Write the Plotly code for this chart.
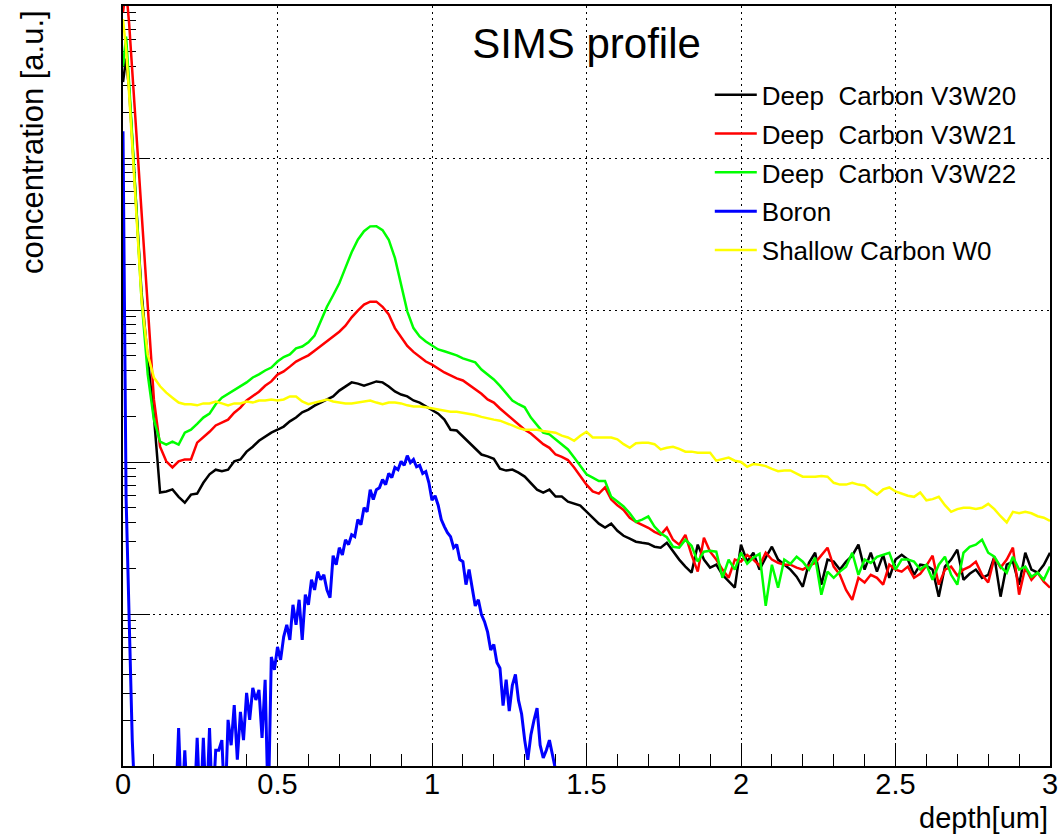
import numpy as np
import plotly.graph_objects as go

# ---- depth grids [um] ----
carbon_depth = [0.0, 0.01] + list(np.round(np.arange(0.02, 3.0001, 0.02), 2))
boron_depth = list(np.round(np.arange(0.0, 1.4401, 0.01), 2))

# ---- SIMS concentrations [a.u.] ----
deep_c_v3w20 = [
    31600, 45000,
    28000, 6000, 1300, 480, 200, 63, 64, 66, 59, 54,
    61, 62, 73, 83, 89, 87, 89, 101, 104, 117,
    126, 138, 147, 156, 163, 171, 185, 196, 212, 221,
    235, 246, 258, 270, 295, 314, 334, 328, 318, 328,
    339, 334, 314, 291, 278, 270, 254, 246, 232, 218,
    208, 190, 163, 161, 147, 134, 122, 112, 109, 105,
    90.5, 87.8, 89.1, 85.1, 80.2, 73.2, 65.8, 62.9, 65.8, 59.2,
    59.2, 54.8, 53.2, 51.6, 47.1, 43.0, 39.3, 37.0, 39.3, 35.3,
    32.7, 31.3, 29.9, 29.4, 29.0, 27.7, 27.3, 29.4, 25.7, 22.8,
    20.5, 18.7, 28.6, 22.8, 20.2, 21.1, 18.1, 16.3, 14.9, 28.6,
    22.1, 25.3, 19.6, 23.5, 27.7, 22.8, 21.1, 19.6, 17.6, 15.1,
    21.7, 25.3, 15.6, 22.8, 22.1, 19.6, 22.1, 24.2, 28.6, 19.6,
    25.3, 19.0, 24.5, 17.3, 22.8, 24.5, 22.8, 18.1, 21.1, 20.8,
    19.6, 13.0, 20.5, 22.8, 26.5, 16.8, 18.4, 19.6, 17.3, 18.1,
    23.8, 13.0, 21.1, 22.1, 15.6, 25.3, 19.6, 18.7, 21.1, 25.3,
]

deep_c_v3w21 = [
    91000, 130000,
    76000, 18000, 4270, 1090, 258, 126, 101, 92, 101, 104,
    104, 134, 145, 158, 174, 182, 190, 211, 228, 254,
    272, 290, 317, 339, 376, 394, 424, 458, 480, 503,
    540, 582, 620, 668, 720, 788, 895, 990, 1085, 1135,
    1135, 1050, 935, 760, 660, 580, 530, 495, 458, 437,
    412, 388, 371, 355, 344, 322, 300, 281, 258, 246,
    225, 208, 190, 176, 163, 154, 143, 131, 124, 112,
    108, 103, 92, 81, 71, 64, 62, 68, 56.6, 52,
    48.4, 43, 40.4, 38.6, 36.9, 34.7, 33.2, 36.9, 30.8, 28.6,
    33.2, 24.5, 19.0, 31.8, 25.7, 22.8, 19.6, 17.3, 22.8, 22.1,
    24.5, 22.8, 20.8, 25.3, 22.8, 21.7, 21.1, 21.1, 20.2, 19.6,
    20.8, 21.7, 24.5, 27.3, 20.5, 18.1, 14.4, 12.4, 17.3, 16.1,
    18.1, 17.3, 15.6, 21.1, 19.6, 19.0, 20.5, 17.3, 18.4, 20.8,
    24.2, 15.6, 19.6, 20.5, 17.9, 19.6, 20.5, 22.1, 18.1, 16.1,
    23.5, 20.2, 22.8, 27.3, 13.4, 20.2, 16.8, 18.7, 16.3, 14.9,
]

deep_c_v3w22 = [
    40000, 63000,
    30600, 5770, 1175, 377, 190, 136, 130, 136, 130, 156,
    163, 178, 196, 208, 240, 265, 281, 296, 318, 334,
    360, 377, 400, 418, 458, 490, 510, 560, 575, 612,
    680, 840, 1050, 1250, 1500, 1900, 2400, 2900, 3300, 3550,
    3560, 3350, 2900, 2200, 1450, 980, 760, 670, 620, 580,
    550, 535, 520, 503, 480, 466, 452, 406, 376, 349,
    317, 286, 254, 240, 229, 196, 174, 156, 152, 141,
    129, 121, 107, 95, 83, 79, 75, 75, 59, 55,
    51, 46, 40.4, 41.8, 43.8, 37.6, 34, 32, 27.7, 27.3,
    30.8, 28.1, 22.1, 25.7, 26.1, 25.7, 17.3, 22.8, 19.6, 25.3,
    21.4, 23.5, 24.9, 11.3, 21.1, 14.9, 22.8, 21.4, 23.8, 22.1,
    19.6, 23.5, 13.4, 19.0, 17.3, 19.0, 20.5, 25.3, 18.1, 22.8,
    21.7, 23.8, 24.5, 25.3, 19.6, 22.8, 22.8, 22.1, 19.6, 21.1,
    16.8, 21.1, 23.8, 18.1, 15.6, 25.3, 27.7, 28.6, 30.8, 25.3,
    23.8, 20.5, 18.7, 23.8, 19.6, 20.5, 17.6, 18.7, 16.8, 20.5,
]

boron = [
    15000, 58, 9.2, 1.48, 0.5, 0.5, 0.5, 0.5, 0.5, 0.5,
    0.5, 0.5, 0.5, 0.5, 0.5, 0.5, 0.5, 0.5, 1.78, 0.5,
    1.27, 0.5, 0.5, 0.5, 1.53, 0.5, 1.53, 0.5, 1.78, 0.5,
    1.27, 1.27, 1.48, 0.5, 2.01, 1.37, 2.52, 1.1, 2.27, 1.48,
    3.03, 2.01, 3.27, 2.72, 3.17, 1.53, 3.69, 0.5, 5.22, 4.29,
    6.08, 4.99, 7.08, 8.49, 6.76, 11.5, 8.49, 12.4, 6.76, 13.4,
    11.5, 16.8, 14.4, 19.0, 16.8, 18.1, 14.4, 12.8, 24.2, 21.1,
    27.3, 24.5, 30.8, 28.6, 33.2, 32.3, 41.8, 38.6, 50, 47.1,
    65.8, 56.6, 65.8, 67.8, 76.6, 71, 84, 79, 92, 89,
    101, 95, 110, 99, 104, 93, 95, 84, 86.5, 73,
    56, 60, 52, 41.8, 37.6, 34.3, 32.3, 27.3, 28.6, 22.8,
    22.1, 15.6, 19.6, 14.4, 11.3, 12.4, 9.9, 8.9, 7.6, 5.8,
    6.3, 4.8, 4.4, 2.5, 3.7, 2.3, 3.4, 4.0, 2.7, 2.2,
    1.48, 1.1, 1.6, 2.0, 2.4, 1.37, 1.13, 1.27, 1.48, 1.18,
    0.94, 0.5, 0.5, 0.5, 0.5,
]

shallow_c_w0 = [
    82000, 52000,
    26000, 5350, 1175, 510, 360, 315, 286, 265, 246, 240,
    240, 236, 243, 243, 250, 243, 236, 243, 243, 250,
    246, 254, 254, 258, 254, 258, 270, 270, 250, 240,
    246, 254, 258, 250, 246, 243, 243, 246, 250, 254,
    246, 240, 246, 246, 243, 236, 232, 232, 229, 225,
    221, 218, 214, 214, 211, 208, 204, 198, 195, 190,
    187, 181, 174, 167, 163, 163, 163, 160, 158, 156,
    149, 145, 138, 149, 158, 145, 145, 145, 145, 141,
    131, 124, 133, 134, 134, 131, 121, 124, 126, 122,
    117, 117, 115, 115, 115, 102, 105, 107, 102, 100,
    93, 97, 96, 94, 90, 87, 88, 88, 84, 80,
    80, 80, 81, 80, 73, 71, 71, 73, 71, 70,
    65, 61, 66, 68, 64, 62, 60, 59, 63, 56,
    57, 59, 52, 47, 49, 50, 50, 49, 50, 53,
    49, 44, 40, 47, 46, 47, 46, 44, 43, 41,
]

series = [
    ("Deep\u00a0 Carbon V3W20", carbon_depth, deep_c_v3w20, "#000000", 2.5),
    ("Deep\u00a0 Carbon V3W21", carbon_depth, deep_c_v3w21, "#ff0000", 2.5),
    ("Deep\u00a0 Carbon V3W22", carbon_depth, deep_c_v3w22, "#00ff00", 2.5),
    ("Boron", boron_depth, boron, "#0000ff", 3),
    ("Shallow Carbon W0", carbon_depth, shallow_c_w0, "#ffff00", 2.5),
]

FONT = "Liberation Sans, Arial, Helvetica, sans-serif"

fig = go.Figure()
for i, (name, x, y, color, width) in enumerate(series):
    fig.add_trace(go.Scatter(
        x=x, y=y, mode="lines", name=name,
        line=dict(color=color, width=width),
        legendgroup=f"g{i}",
        hoverinfo="skip",
    ))

W, H = 1058, 837
M = dict(l=123, r=8, t=6, b=71)

fig.update_layout(
    width=W, height=H,
    margin=dict(**M, pad=0, autoexpand=False),
    paper_bgcolor="white",
    plot_bgcolor="white",
    font=dict(family=FONT, color="black"),
    showlegend=True,
    legend=dict(
        x=0.633, y=0.914, xanchor="left", yanchor="top",
        bgcolor="rgba(0,0,0,0)", borderwidth=0,
        font=dict(size=26, family=FONT),
        traceorder="grouped", tracegroupgap=2,
        itemwidth=42,
    ),
    title=dict(
        text="SIMS profile", x=0.5, xref="paper", xanchor="center",
        y=1 - 43 / H, yref="container", yanchor="middle",
        font=dict(size=42, family=FONT),
    ),
)

fig.update_xaxes(
    range=[0, 3], dtick=0.5, tick0=0,
    showline=True, linecolor="black", linewidth=2, mirror=True,
    ticks="inside", ticklen=23, tickwidth=1, tickcolor="black",
    minor=dict(dtick=0.1, ticks="inside", ticklen=12, tickcolor="black",
               tickwidth=1, showgrid=False),
    showgrid=True, gridcolor="black", gridwidth=1, griddash="2px,4px",
    tickfont=dict(size=29, family=FONT),
    ticklabeloverflow="allow", ticklabelstandoff=-9,
    automargin=False,
    zeroline=False, layer="below traces",
)
fig.update_yaxes(
    type="log", range=[0, 5], dtick=1,
    showline=True, linecolor="black", linewidth=2, mirror=True,
    ticks="inside", ticklen=27, tickwidth=1, tickcolor="black",
    minor=dict(dtick="D1", ticks="inside", ticklen=13, tickcolor="black",
               tickwidth=1, showgrid=False),
    showgrid=True, gridcolor="black", gridwidth=1, griddash="2px,4px",
    showticklabels=False, automargin=False,
    zeroline=False, layer="below traces",
)

pw = W - M["l"] - M["r"]
ph = H - M["t"] - M["b"]

fig.add_annotation(
    text="concentration [a.u.]", textangle=-90,
    xref="paper", yref="paper",
    x=(32 - M["l"]) / pw, y=(H - M["b"] - 142) / ph,
    xanchor="center", yanchor="middle", showarrow=False,
    font=dict(size=31, family=FONT),
)
fig.add_annotation(
    text="depth[um]",
    xref="paper", yref="paper",
    x=1.0, y=(H - M["b"] - 818) / ph,
    xanchor="right", yanchor="middle", showarrow=False,
    font=dict(size=29, family=FONT),
)

fig.write_html("out.html")
